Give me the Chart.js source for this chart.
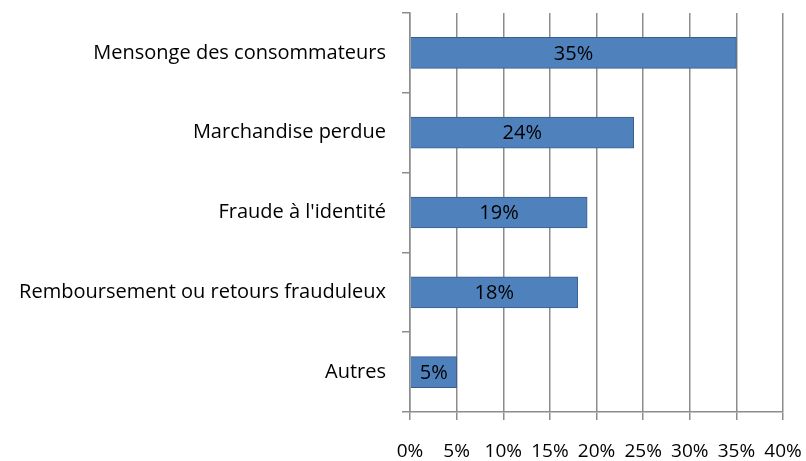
<!DOCTYPE html>
<html>
<head>
<meta charset="utf-8">
<script src="https://cdn.jsdelivr.net/npm/chart.js@4/dist/chart.umd.min.js"></script>
<style>
  html, body { margin: 0; padding: 0; background: #fff; }
  #wrap { width: 806px; height: 461px; }
</style>
</head>
<body>
<div id="wrap"><canvas id="fraudChart" width="806" height="461"></canvas></div>
<script>
const categories = [
  'Mensonge des consommateurs',
  'Marchandise perdue',
  "Fraude à l'identité",
  'Remboursement ou retours frauduleux',
  'Autres'
];
const percents = [35, 24, 19, 18, 5];
const xTicks = [0, 5, 10, 15, 20, 25, 30, 35, 40];

const FONT = '"Open Sans", Lato, sans-serif';

// draws the value inside each bar, centred
const barLabels = {
  id: 'barLabels',
  afterDatasetsDraw(chart) {
    const ctx = chart.ctx;
    const meta = chart.getDatasetMeta(0);
    ctx.save();
    ctx.font = '20px ' + FONT;
    ctx.fillStyle = '#000';
    ctx.textAlign = 'center';
    ctx.textBaseline = 'middle';
    meta.data.forEach((bar, i) => {
      const x = (bar.x + bar.base) / 2;
      ctx.fillText(percents[i] + '%', x, bar.y + 1);
    });
    ctx.restore();
  }
};

function noPad(scale) {
  scale.paddingTop = 0;
  scale.paddingBottom = 0;
  scale.paddingLeft = 0;
  scale.paddingRight = 0;
}

new Chart(document.getElementById('fraudChart'), {
  type: 'bar',
  data: {
    labels: categories,
    datasets: [{
      data: percents,
      backgroundColor: '#4f81bd',
      borderColor: '#385d8a',
      borderWidth: 1,
      barThickness: 31
    }]
  },
  plugins: [barLabels],
  options: {
    indexAxis: 'y',
    responsive: false,
    animation: false,
    layout: { padding: { top: 13, right: 23, left: 0, bottom: 0 } },
    plugins: { legend: { display: false }, tooltip: { enabled: false } },
    scales: {
      x: {
        min: 0,
        max: 40,
        afterBuildTicks(scale) {
          scale.ticks = xTicks.map(v => ({ value: v }));
        },
        afterFit(scale) { scale.height = 49; noPad(scale); },
        ticks: {
          callback: v => v + '%',
          color: '#000',
          font: { family: FONT, size: 19 },
          padding: 20,
          maxRotation: 0
        },
        grid: { color: '#8c8c8c', lineWidth: 1.5, tickLength: 8 },
        border: { color: '#8c8c8c', width: 1.5 }
      },
      y: {
        afterFit(scale) { scale.width = 410; noPad(scale); },
        ticks: {
          color: '#000',
          font: { family: FONT, size: 20 },
          padding: 16
        },
        grid: {
          offset: true,
          drawOnChartArea: false,
          color: '#8c8c8c',
          lineWidth: 1.5,
          tickLength: 8
        },
        border: { color: '#8c8c8c', width: 1.5 }
      }
    }
  }
});
</script>
</body>
</html>
